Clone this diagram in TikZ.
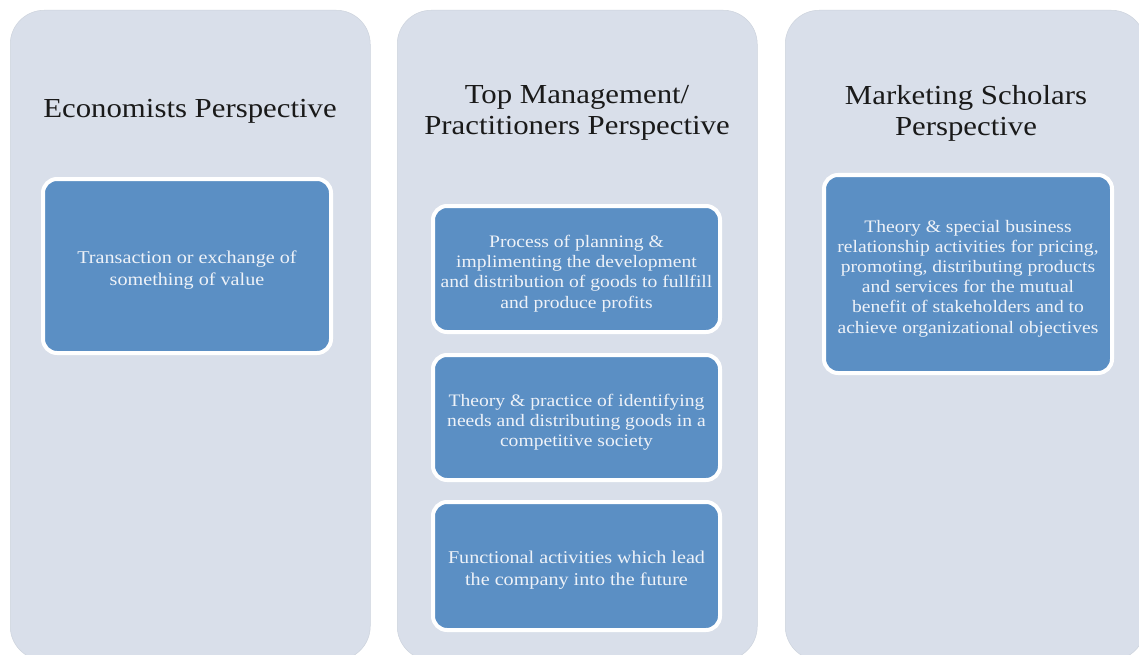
\documentclass[tikz,border=0pt]{standalone}
\usepackage{fontspec}
\setmainfont{Liberation Serif}[FakeStretch=1.12]
\definecolor{panelbg}{HTML}{D9DFEA}
\definecolor{paneledge}{HTML}{CDD3DD}
\definecolor{boxblue}{HTML}{5B8FC4}
\definecolor{boxtext}{HTML}{EEF2F8}
\definecolor{titletext}{HTML}{1A1A1A}
\tikzset{
  panel/.style={rectangle, rounded corners=34pt, fill=panelbg, draw=paneledge, line width=0.5pt, inner sep=0pt, anchor=north west},
  title/.style={align=center, text=titletext, font=\fontsize{27.5}{31}\selectfont},
  item/.style={rectangle, rounded corners=14pt, fill=boxblue, draw=white, line width=4pt, inner sep=0pt},
  itemtxt/.style={align=center, text=boxtext, inner sep=0pt},
  txtA/.style={itemtxt, font=\fontsize{18}{22}\selectfont},
  txtB/.style={itemtxt, font=\fontsize{17.5}{20.2}\selectfont}
}
\begin{document}
\begin{tikzpicture}[x=1pt,y=-1pt]
\useasboundingbox (0,0) rectangle (1139,655);
\clip (0,0) rectangle (1139,655);
\fill[white] (0,0) rectangle (1139,655);
% panels
\node[panel, minimum width=360pt, minimum height=650pt] (p1) at (10,10) {};
\node[panel, minimum width=360pt, minimum height=650pt] (p2) at (397,10) {};
\node[panel, minimum width=360pt, minimum height=650pt] (p3) at (785,10) {};
% titles
\node[title] (t1) at (190,111) {Economists Perspective};
\node[title] (t2) at (577,113) {Top Management/\\Practitioners Perspective};
\node[title] (t3) at (966,113) {Marketing Scholars\\Perspective};
% inner boxes
\node[item, minimum width=288pt, minimum height=174pt] (b1) at (187,266) {};
\node[item, minimum width=287pt, minimum height=126pt] (b2) at (576.5,269) {};
\node[item, minimum width=287pt, minimum height=125pt] (b3) at (576.5,417.5) {};
\node[item, minimum width=287pt, minimum height=128pt] (b4) at (576.5,566) {};
\node[item, minimum width=288pt, minimum height=198pt] (b5) at (968,274) {};
% texts
\node[txtA] (l1) at ([yshift=-4pt]b1.center)
  {Transaction or exchange of\\something of value};
\node[txtB] (l2) at ([yshift=-4.5pt]b2.center)
  {Process of planning \&\\implimenting the development\\and distribution of goods to fullfill\\and produce profits};
\node[txtB] (l3) at ([yshift=-4.5pt]b3.center)
  {Theory \& practice of identifying\\needs and distributing goods in a\\competitive society};
\node[txtA] (l4) at ([yshift=-4pt]b4.center)
  {Functional activities which lead\\the company into the future};
\node[txtB] (l5) at ([yshift=-4.5pt]b5.center)
  {Theory \& special business\\relationship activities for pricing,\\promoting, distributing products\\and services for the mutual\\benefit of stakeholders and to\\achieve organizational objectives};
\end{tikzpicture}
\end{document}
